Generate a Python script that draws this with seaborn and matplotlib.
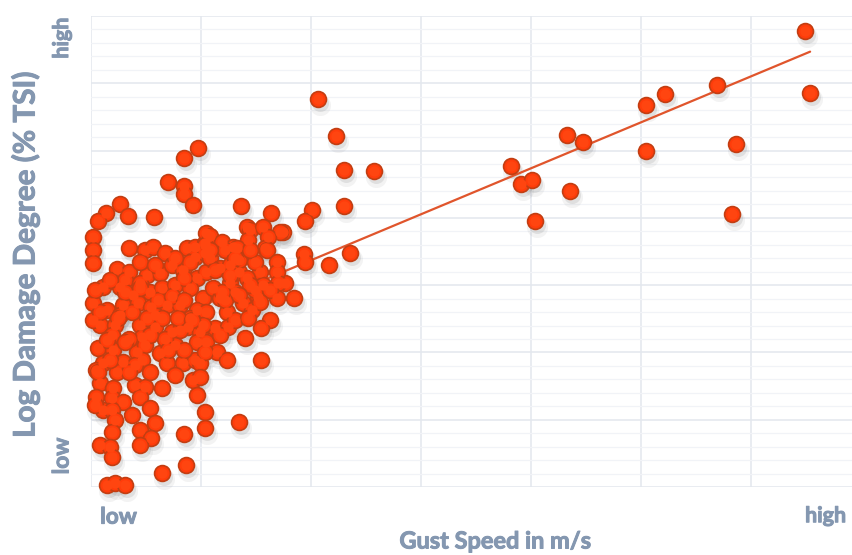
import matplotlib
matplotlib.use("Agg")
import matplotlib.pyplot as plt
import matplotlib.transforms as mtransforms
import matplotlib.patheffects as pe
import seaborn as sns
import pandas as pd
import numpy as np

# ---- data (arbitrary units: grid every 10 units) ----
gust = [
    64.9, 65.4, 58.7, 58.3, 56.9, 52.2, 50.5, 50.5, 43.3, 44.7, 43.6, 38.2, 39.1, 40.1, 40.4,
    20.6, 22.3, 23.0, 25.7, 23.0, 20.1, 19.5, 17.5, 19.4, 19.5, 21.6, 23.6, 17.6, 18.5,
    9.7, 8.5, 7.0, 8.5, 8.5, 9.3, 2.6, 3.4, 1.4, 0.6, 5.7, 0.2, 0.2, 3.5, 4.9, 5.6, 6.7,
    8.7, 9.5, 10.4, 10.5, 13.6, 16.4, 14.2, 14.5, 15.6, 17.2, 16.1, 14.3, 10.8, 11.9, 10.4,
    12.9, 15.8,
    0.2, 9.5, 10.4, 2.4, 3.5, 5.1, 6.3, 7.4, 8.4, 9.6, 10.5, 1.1, 2.6, 3.8, 5.4, 6.5, 7.6,
    9.0, 10.2, 0.2, 1.5, 2.9, 4.3, 5.5, 6.9, 8.1, 9.6, 0.8, 2.2, 4.5, 5.8, 7.4, 8.8, 9.9,
    1.9, 4.6, 9.6, 0.6, 2.0, 4.2, 4.9, 6.3, 7.6, 1.1, 2.9, 4.6, 6.9, 8.4, 9.5,
    10.8, 12.2, 13.3, 16.0, 16.9, 11.7, 13.5, 15.4, 16.9, 11.1, 12.6, 14.2, 15.6, 17.0,
    11.7, 13.8, 15.2, 16.9, 10.5, 12.4, 14.6, 11.3, 12.5, 10.2, 16.3, 15.5, 10.5, 11.5,
    12.4, 15.5, 9.9,
    2.4, 4.0, 9.3, 0.8, 2.0, 4.0, 4.9, 6.5, 9.6, 0.5, 1.9, 2.9, 4.5, 1.1, 1.9, 3.7, 5.4,
    10.4, 2.2, 5.8, 4.5, 10.4, 8.5, 1.9, 5.5, 4.5, 0.8, 1.7, 1.9, 6.5, 8.6, 1.5, 2.2, 3.1,
    9.9, 13.5,
    0.4, 0.2, 0.5, 0.4, 3.1, 4.5, 8.5, 5.8, 2.6, 9.0, 3.5, 6.7, 8.1, 13.1, 14.9, 12.2,
    13.5, 14.9, 12.6,
    1.7, 3.1, 4.5, 6.1, 7.4, 8.5, 0.8, 2.5, 3.7, 5.1, 6.5, 7.9, 9.2, 1.5, 3.1, 5.4, 7.0,
    8.5, 10.4, 0.6, 1.7, 3.5, 5.4, 7.6, 11.3, 12.6, 14.5, 16.3, 11.9, 13.5, 15.4, 13.1,
    14.3, 11.7, 14.0, 13.1, 14.5, 10.8, 9.0, 7.6, 4.5, 5.8,
]
damage = [
    67.8, 58.5, 51.0, 40.6, 59.7, 58.4, 56.8, 49.9, 52.3, 51.3, 44.0, 47.7, 45.0, 45.6, 39.5,
    57.7, 52.2, 47.1, 47.0, 41.8, 41.2, 39.5, 37.9, 34.6, 33.4, 33.0, 34.8, 30.3, 28.1,
    50.4, 48.9, 45.3, 44.7, 43.5, 41.9, 42.1, 40.3, 40.7, 39.5, 40.1, 37.1, 35.2, 35.5, 35.2,
    35.7, 34.8, 35.5, 35.7, 36.3, 37.7, 41.8, 40.7, 38.6, 38.2, 38.6, 37.9, 37.1, 36.7, 37.3,
    36.4, 36.0, 35.7, 35.5,
    33.3, 34.2, 34.8, 32.4, 31.9, 31.5, 31.8, 33.0, 32.2, 31.1, 31.9, 29.7, 29.7, 28.5, 29.0,
    29.6, 30.0, 29.6, 28.1, 27.3, 26.3, 27.0, 27.3, 26.7, 27.0, 27.0, 26.3, 24.1, 24.1, 24.1,
    23.8, 23.0, 23.8, 23.0, 22.6, 22.3, 21.5, 20.7, 20.4, 20.1, 21.1, 19.9, 21.1, 18.4, 18.6,
    18.9, 18.4, 18.4, 18.9,
    34.0, 35.2, 35.5, 35.2, 33.4, 32.5, 31.9, 31.9, 31.9, 29.6, 30.3, 31.1, 30.0, 30.3,
    28.1, 27.3, 28.2, 28.1, 26.0, 26.0, 26.3, 23.6, 23.8, 24.1, 24.8, 23.6, 21.5, 20.1,
    18.9, 18.9, 18.4,
    17.1, 18.1, 15.9, 15.5, 14.7, 15.2, 14.9, 14.7, 13.7, 13.4, 13.2, 12.6, 13.4, 11.4, 11.4,
    10.7, 11.7, 11.1, 10.0, 9.5, 8.5, 8.8, 7.9, 8.2, 7.3, 6.2, 6.2, 5.9, 4.5, 2.1, 3.3, 0.3,
    0.6, 0.3, 16.3, 9.7,
    29.3, 24.8, 17.4, 12.2, 30.8, 30.3, 31.1, 25.6, 25.6, 25.1, 22.0, 22.0, 23.3, 29.0, 29.3,
    27.8, 33.7, 33.4, 33.0,
    30.8, 29.0, 29.6, 27.8, 28.4, 27.8, 26.0, 25.1, 26.0, 25.1, 25.1, 25.1, 24.8, 21.8, 21.5,
    22.6, 20.4, 20.4, 20.1, 17.1, 18.9, 17.1, 17.1, 16.6, 32.2, 31.5, 30.0, 29.3, 29.0, 28.5,
    27.5, 24.8, 25.1, 22.6, 22.1, 34.0, 35.2, 35.2, 33.4, 34.0, 33.4, 33.0,
]
fit_x = [8.0, 65.4]
fit_y = [25.5, 64.7]
x_tick_labels = ["low", "high"]
y_tick_labels = ["low", "high"]
x_title = "Gust Speed in m/s"
y_title = "Log Damage Degree (% TSI)"

df = pd.DataFrame({"gust": gust, "damage": damage})
fit = pd.DataFrame({"x": fit_x, "y": fit_y})

sns.set_style("white")
plt.rcParams["font.family"] = ["Lato", "DejaVu Sans"]

TEXT = "#8497B0"
fig = plt.figure(figsize=(8.53, 5.55), dpi=100)
ax = fig.add_axes([91 / 853, 1 - 487 / 555, 1 - 91 / 853, (487 - 16) / 555])

ax.set_xlim(0, 69.3)
ax.set_ylim(0, 70)
ax.set_xticks(np.arange(0, 70, 10))
ax.set_yticks(np.arange(0, 71, 10))
ax.set_yticks(np.arange(0, 70, 2), minor=True)
ax.tick_params(which="both", length=0, labelbottom=False, labelleft=False)
ax.grid(True, which="major", color="#E3E7EE", lw=1.1)
ax.grid(True, which="minor", axis="y", color="#F1F3F7", lw=0.9)
ax.set_axisbelow(True)
for s in ax.spines.values():
    s.set_visible(False)

# soft shadows
for sz, al, dx, dy in [(230, 0.08, 2, -6), (150, 0.14, 2, -4)]:
    sns.scatterplot(data=df, x="gust", y="damage", ax=ax, s=sz, color="#6a6a6a",
                    alpha=al, linewidth=0, legend=False, zorder=2)
    coll = ax.collections[-1]
    coll.set_offset_transform(mtransforms.offset_copy(ax.transData, fig=fig, x=dx, y=dy, units="dots"))
    coll.set_clip_on(False)

sns.lineplot(data=fit, x="x", y="y", ax=ax, color="#E0552C", lw=1.6, zorder=3)

sns.scatterplot(data=df, x="gust", y="damage", ax=ax, s=130, color="#FF3C0A",
                edgecolor="#C23E12", linewidth=1.2, legend=False, zorder=4)
ax.collections[-1].set_clip_on(False)
sns.scatterplot(data=df, x="gust", y="damage", ax=ax, s=55, color="#FF4510",
                linewidth=0, legend=False, zorder=5)
ax.collections[-1].set_clip_on(False)

ax.set_xlabel("")
ax.set_ylabel("")

renderer = fig.canvas.get_renderer()

def fit_text(t, target_px, horizontal=True):
    bb = t.get_window_extent(renderer)
    w = bb.width if horizontal else bb.height
    t.set_fontsize(t.get_fontsize() * target_px / w)

bx = mtransforms.blended_transform_factory(ax.transData, ax.transAxes)
by = mtransforms.blended_transform_factory(ax.transAxes, ax.transData)
kw = dict(fontweight="bold", color=TEXT, ha="center", va="center")
t1 = ax.text(2.5, -0.064, x_tick_labels[0], transform=bx, fontsize=15, **kw)
t2 = ax.text(66.8, -0.062, x_tick_labels[1], transform=bx, fontsize=15, **kw)
t3 = ax.text(-0.038, 4.6, y_tick_labels[0], transform=by, rotation=90, fontsize=15, **kw)
t4 = ax.text(-0.038, 66.7, y_tick_labels[1], transform=by, rotation=90, fontsize=15, **kw)
t5 = fig.text(495 / 853, 1 - 541 / 555, x_title, fontsize=17, **kw)
t6 = fig.text(25 / 853, 1 - 255 / 555, y_title, rotation=90, fontsize=20, **kw)

for t, tgt, hz in [(t1, 37, True), (t2, 41, True), (t3, 37, False), (t4, 41, False),
                   (t5, 192, True), (t6, 366, False)]:
    fit_text(t, tgt, hz)
    t.set_path_effects([pe.withStroke(linewidth=0.7, foreground=TEXT)])

fig.savefig("out.png", dpi=100)
